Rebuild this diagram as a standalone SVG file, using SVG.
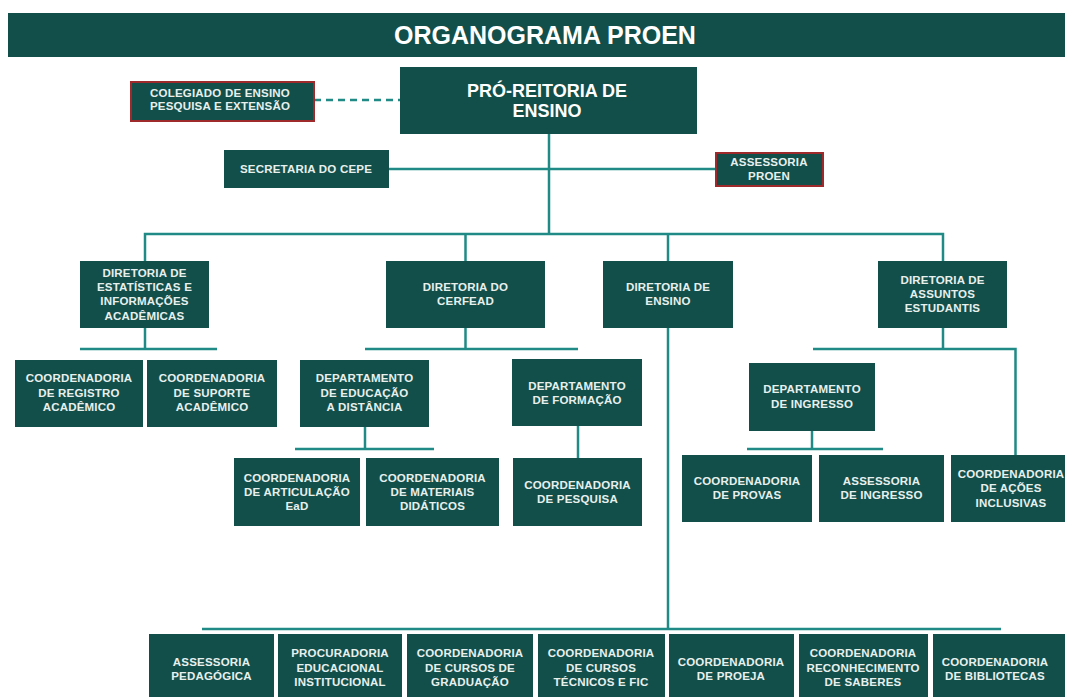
<svg xmlns="http://www.w3.org/2000/svg" width="1065" height="697" viewBox="0 0 1065 697">
<style>
.b{fill:#124f4a}
.r{stroke:#9e2a2b;stroke-width:2}
.t{font-family:"Liberation Sans",Arial,sans-serif;font-weight:bold;font-size:11.5px;fill:#e8f0ee;text-anchor:middle;letter-spacing:0.2px}
.big{font-family:"Liberation Sans",Arial,sans-serif;font-weight:bold;fill:#ffffff;text-anchor:middle}
.c{stroke:#1f8a86;stroke-width:2.5;fill:none}
</style>
<rect width="1065" height="697" fill="#ffffff"/>
<g id="title">
<rect class="b" x="8" y="13" width="1057" height="44"/>
<text class="big" x="545" y="44" font-size="25">ORGANOGRAMA PROEN</text>
</g>
<g id="connectors">
<line class="c" x1="314" y1="100" x2="400" y2="100" stroke-dasharray="7,5" stroke-width="2"/>
<line class="c" x1="549" y1="134" x2="549" y2="234"/>
<line class="c" x1="389" y1="169" x2="715" y2="169"/>
<polyline class="c" points="145,261 145,234 943,234 943,261"/>
<line class="c" x1="465.5" y1="234" x2="465.5" y2="261"/>
<line class="c" x1="668" y1="234" x2="668" y2="261"/>
<line class="c" x1="145" y1="328" x2="145" y2="349"/>
<line class="c" x1="80" y1="349" x2="217" y2="349"/>
<line class="c" x1="465.5" y1="328" x2="465.5" y2="349"/>
<line class="c" x1="365" y1="349" x2="578" y2="349"/>
<line class="c" x1="365" y1="427" x2="365" y2="449"/>
<line class="c" x1="295" y1="449" x2="434" y2="449"/>
<line class="c" x1="578" y1="426" x2="578" y2="458"/>
<line class="c" x1="668" y1="328" x2="668" y2="629"/>
<line class="c" x1="202" y1="629" x2="1001" y2="629"/>
<line class="c" x1="943" y1="328" x2="943" y2="349"/>
<polyline class="c" points="813,349 1015.5,349 1015.5,455"/>
<line class="c" x1="812" y1="431" x2="812" y2="449"/>
<line class="c" x1="747" y1="449" x2="883" y2="449"/>
</g>
<g id="pro-reitoria">
<rect class="b" x="400" y="67" width="297" height="67"/>
<text class="big" x="547" y="97" font-size="18">PRÓ-REITORIA DE</text>
<text class="big" x="547" y="117" font-size="18">ENSINO</text>
</g>
<g id="colegiado">
<rect class="b r" x="131" y="82" width="183" height="39"/>
<text class="t" x="220" y="97" font-weight="normal">COLEGIADO DE ENSINO</text>
<text class="t" x="220" y="110" font-weight="normal">PESQUISA E EXTENSÃO</text>
</g>
<g id="secretaria">
<rect class="b" x="224" y="150" width="165" height="38"/>
<text class="t" x="306" y="173">SECRETARIA DO CEPE</text>
</g>
<g id="assessoria-proen">
<rect class="b r" x="716" y="153" width="107" height="33"/>
<text class="t" x="769" y="166">ASSESSORIA</text>
<text class="t" x="769" y="180">PROEN</text>
</g>
<g id="dir-estatisticas">
<rect class="b" x="80" y="261" width="129" height="67"/>
<text class="t" x="144.5" y="277">DIRETORIA DE</text>
<text class="t" x="144.5" y="291">ESTATÍSTICAS E</text>
<text class="t" x="144.5" y="305">INFORMAÇÕES</text>
<text class="t" x="144.5" y="320">ACADÊMICAS</text>
</g>
<g id="dir-cerfead">
<rect class="b" x="386" y="261" width="159" height="67"/>
<text class="t" x="465.5" y="291">DIRETORIA DO</text>
<text class="t" x="465.5" y="305">CERFEAD</text>
</g>
<g id="dir-ensino">
<rect class="b" x="603" y="261" width="130" height="67"/>
<text class="t" x="668" y="291">DIRETORIA DE</text>
<text class="t" x="668" y="305">ENSINO</text>
</g>
<g id="dir-assuntos">
<rect class="b" x="878" y="261" width="129" height="67"/>
<text class="t" x="942.5" y="284">DIRETORIA DE</text>
<text class="t" x="942.5" y="298">ASSUNTOS</text>
<text class="t" x="942.5" y="312">ESTUDANTIS</text>
</g>
<g id="coord-registro">
<rect class="b" x="15" y="360" width="128" height="67"/>
<text class="t" x="79" y="382">COORDENADORIA</text>
<text class="t" x="79" y="397">DE REGISTRO</text>
<text class="t" x="79" y="411">ACADÊMICO</text>
</g>
<g id="coord-suporte">
<rect class="b" x="147" y="360" width="130" height="67"/>
<text class="t" x="212" y="382">COORDENADORIA</text>
<text class="t" x="212" y="397">DE SUPORTE</text>
<text class="t" x="212" y="411">ACADÊMICO</text>
</g>
<g id="dep-ead">
<rect class="b" x="300" y="360" width="129" height="67"/>
<text class="t" x="364.5" y="382">DEPARTAMENTO</text>
<text class="t" x="364.5" y="397">DE EDUCAÇÃO</text>
<text class="t" x="364.5" y="411">A DISTÂNCIA</text>
</g>
<g id="dep-formacao">
<rect class="b" x="512" y="359" width="130" height="67"/>
<text class="t" x="577" y="390">DEPARTAMENTO</text>
<text class="t" x="577" y="404">DE FORMAÇÃO</text>
</g>
<g id="coord-articulacao">
<rect class="b" x="234" y="458" width="126" height="68"/>
<text class="t" x="297" y="482">COORDENADORIA</text>
<text class="t" x="297" y="496">DE ARTICULAÇÃO</text>
<text class="t" x="297" y="510">EaD</text>
</g>
<g id="coord-materiais">
<rect class="b" x="366" y="458" width="133" height="68"/>
<text class="t" x="432.5" y="482">COORDENADORIA</text>
<text class="t" x="432.5" y="496">DE MATERIAIS</text>
<text class="t" x="432.5" y="510">DIDÁTICOS</text>
</g>
<g id="coord-pesquisa">
<rect class="b" x="513" y="458" width="129" height="68"/>
<text class="t" x="577.5" y="489">COORDENADORIA</text>
<text class="t" x="577.5" y="503">DE PESQUISA</text>
</g>
<g id="dep-ingresso">
<rect class="b" x="749" y="363" width="126" height="68"/>
<text class="t" x="812" y="393">DEPARTAMENTO</text>
<text class="t" x="812" y="408">DE INGRESSO</text>
</g>
<g id="coord-provas">
<rect class="b" x="682" y="455" width="130" height="67"/>
<text class="t" x="747" y="485">COORDENADORIA</text>
<text class="t" x="747" y="499">DE PROVAS</text>
</g>
<g id="assessoria-ingresso">
<rect class="b" x="819" y="455" width="125" height="67"/>
<text class="t" x="881.5" y="485">ASSESSORIA</text>
<text class="t" x="881.5" y="499">DE INGRESSO</text>
</g>
<g id="coord-acoes">
<rect class="b" x="951" y="455" width="120" height="67"/>
<text class="t" x="1011" y="478">COORDENADORIA</text>
<text class="t" x="1011" y="492">DE AÇÕES</text>
<text class="t" x="1011" y="507">INCLUSIVAS</text>
</g>
<g id="assessoria-pedagogica">
<rect class="b" x="149" y="634" width="125" height="70"/>
<text class="t" x="211.5" y="666">ASSESSORIA</text>
<text class="t" x="211.5" y="680">PEDAGÓGICA</text>
</g>
<g id="procuradoria">
<rect class="b" x="278" y="634" width="124" height="70"/>
<text class="t" x="340" y="657">PROCURADORIA</text>
<text class="t" x="340" y="672">EDUCACIONAL</text>
<text class="t" x="340" y="686">INSTITUCIONAL</text>
</g>
<g id="coord-graduacao">
<rect class="b" x="407" y="634" width="126" height="70"/>
<text class="t" x="470" y="657">COORDENADORIA</text>
<text class="t" x="470" y="672">DE CURSOS DE</text>
<text class="t" x="470" y="686">GRADUAÇÃO</text>
</g>
<g id="coord-tecnicos">
<rect class="b" x="538" y="634" width="127" height="70"/>
<text class="t" x="601" y="657">COORDENADORIA</text>
<text class="t" x="601" y="672">DE CURSOS</text>
<text class="t" x="601" y="686">TÉCNICOS E FIC</text>
</g>
<g id="coord-proeja">
<rect class="b" x="669" y="634" width="125" height="70"/>
<text class="t" x="731" y="666">COORDENADORIA</text>
<text class="t" x="731" y="680">DE PROEJA</text>
</g>
<g id="coord-saberes">
<rect class="b" x="799" y="634" width="129" height="70"/>
<text class="t" x="863" y="657">COORDENADORIA</text>
<text class="t" x="863" y="672">RECONHECIMENTO</text>
<text class="t" x="863" y="686">DE SABERES</text>
</g>
<g id="coord-bibliotecas">
<rect class="b" x="933" y="634" width="140" height="70"/>
<text class="t" x="995" y="666">COORDENADORIA</text>
<text class="t" x="995" y="680">DE BIBLIOTECAS</text>
</g>
</svg>
